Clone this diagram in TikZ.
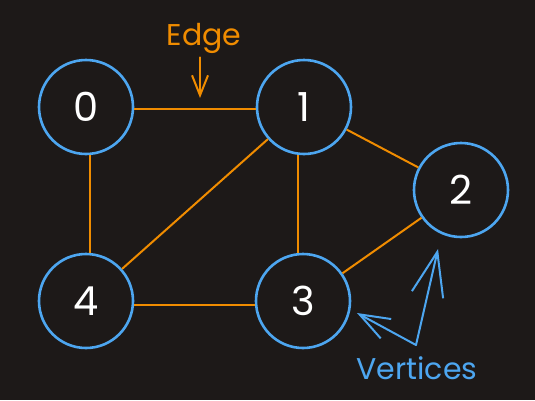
\documentclass[tikz,border=0pt]{standalone}
\usepackage{fontspec}
\setmainfont{Poppins}
\usetikzlibrary{arrows.meta}
\definecolor{bgc}{RGB}{29,25,24}
\definecolor{vblue}{RGB}{77,166,240}
\definecolor{eorange}{RGB}{240,140,0}
\begin{document}
\begin{tikzpicture}[x=1pt,y=-1pt,
  vertex/.style={circle,draw=vblue,line width=2.6pt,fill=bgc,minimum size=94pt,inner sep=0pt,
    text=white,font=\fontsize{40}{42}\selectfont},
  edgeline/.style={draw=eorange,line width=2pt},
  lbl/.style={font=\fontsize{30}{32}\selectfont,inner sep=0pt},
  pointer/.style={line width=2pt,line cap=round}]
\fill[bgc] (0,0) rectangle (535,400);
\useasboundingbox (0,0) rectangle (535,400);
% vertices
\node[vertex] (n0) at (86,107) {0};
\node[vertex] (n1) at (304,107) {1};
\node[vertex] (n2) at (461,190) {2};
\node[vertex] (n3) at (303,301) {3};
\node[vertex] (n4) at (86,301) {4};
% edges
\draw[edgeline] ([yshift=-2pt]n0.east) -- ([yshift=-2pt]n1.west);
\draw[edgeline] ([yshift=-4pt]n4.east) -- ([yshift=-4pt]n3.west);
\draw[edgeline] ([xshift=4pt]n0.south) -- ([xshift=4pt]n4.north);
\draw[edgeline] ([xshift=-6pt]n1.south) -- ([xshift=-5pt]n3.north);
\draw[edgeline] (n1) -- (n4);
\draw[edgeline] (n1) -- (n2);
\draw[edgeline] (n2) -- (n3);
% Edge label
\node[lbl,text=eorange] (edgelbl) at (204,38) {Edge};
\coordinate (edgetip) at (200,98);
\draw[pointer,eorange,-{Straight Barb[length=20pt,width=16pt,line width=2pt]}] (edgelbl.south -| edgetip) ++(0,4) -- (edgetip);
% Vertices label
\node[lbl,text=vblue] (vlbl) at (417,368) {Vertices};
\coordinate (vjoin) at (416,345);
\coordinate (vtip3) at (357,313);
\coordinate (vtip2) at (438,249);
\draw[pointer,vblue,-{Straight Barb[length=30pt,width=22pt,line width=2pt]}] (vjoin) -- (vtip3);
\draw[pointer,vblue,-{Straight Barb[length=44pt,width=32pt,line width=2pt]}] (vjoin) -- (vtip2);
\end{tikzpicture}
\end{document}
